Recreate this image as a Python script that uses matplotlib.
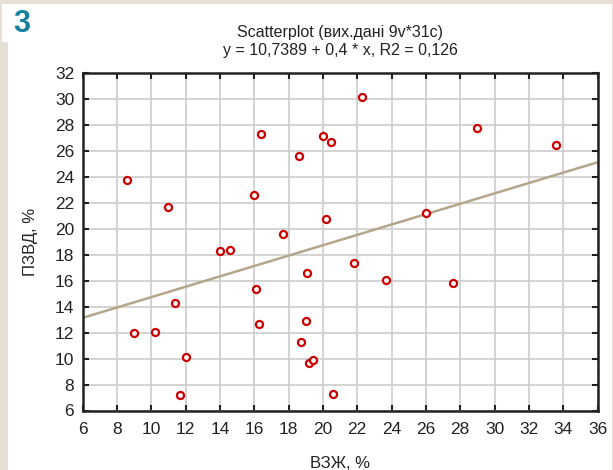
import matplotlib.pyplot as plt
from matplotlib.patches import Rectangle
import numpy as np

# ВЗЖ, % (x) і ПЗВД, % (y), 31 спостереження
vzh = [8.6, 11.0, 16.4, 18.6, 20.0, 20.5, 16.0, 20.2, 17.7,
       22.3, 29.0, 33.6, 26.0,
       14.0, 14.6, 19.1, 16.1, 11.4, 9.0, 10.2, 16.3, 19.0, 18.7,
       12.0, 19.2, 19.4, 11.7, 20.6,
       21.8, 23.7, 27.6]
pzvd = [23.8, 21.7, 27.3, 25.6, 27.2, 26.7, 22.6, 20.8, 19.6,
        30.2, 27.8, 26.45, 21.2,
        18.3, 18.4, 16.6, 15.35, 14.3, 11.95, 12.05, 12.7, 12.9, 11.25,
        10.1, 9.7, 9.9, 7.2, 7.3,
        17.4, 16.05, 15.85]
a, b = 10.7389, 0.4
x_ticks = list(range(6, 37, 2))
y_ticks = list(range(6, 33, 2))

plt.rcParams['font.family'] = ['Liberation Sans', 'DejaVu Sans']

fig = plt.figure(figsize=(6.13, 4.7), dpi=100, facecolor='#e7dfd4')
W, H = 613, 470
# white panel + tab for the number
fig.patches.append(Rectangle((8 / W, 0), (612 - 8) / W, (H - 4) / H,
                             transform=fig.transFigure, facecolor='white',
                             edgecolor='none', zorder=-10))
fig.patches.append(Rectangle((2 / W, (H - 42) / H), 8 / W, 38 / H,
                             transform=fig.transFigure, facecolor='white',
                             edgecolor='none', zorder=-10))
fig.text(13 / W, (H - 24) / H, '3', color='#17809f', fontsize=22,
         fontweight='bold', va='center', ha='left')

ax = fig.add_axes([82.5 / W, 59.5 / H, 515 / W, 337.2 / H])
ax.set_xlim(6, 36)
ax.set_ylim(6, 32)
ax.set_xticks(x_ticks)
ax.set_yticks(y_ticks)
ax.grid(True, color='#cccccc', linewidth=1.2)
ax.set_axisbelow(True)
for s in ax.spines.values():
    s.set_linewidth(1.8)
    s.set_color('#222222')
ax.tick_params(direction='in', length=4, width=1.5, top=True, right=True,
               labelsize=12.5, colors='#222222')
ax.tick_params(axis='x', pad=8)
ax.tick_params(axis='y', pad=6)

xx = np.array([6, 36])
ax.plot(xx, a + b * xx, color='#b5a68b', linewidth=1.8, zorder=2)
ax.scatter(vzh, pzvd, s=26, facecolors='white', edgecolors='#cc0000',
           linewidths=1.6, zorder=3)

ax.set_title('Scatterplot (вих.дані 9v*31c)\ny = 10,7389 + 0,4 * x, R2 = 0,126',
             fontsize=11.5, pad=13, linespacing=1.3, color='#222222')
ax.set_xlabel('ВЗЖ, %', fontsize=12, labelpad=14, color='#222222')
ax.set_ylabel('ПЗВД, %', fontsize=12, labelpad=12, color='#222222')

fig.savefig('out.png', dpi=100, facecolor=fig.get_facecolor())
